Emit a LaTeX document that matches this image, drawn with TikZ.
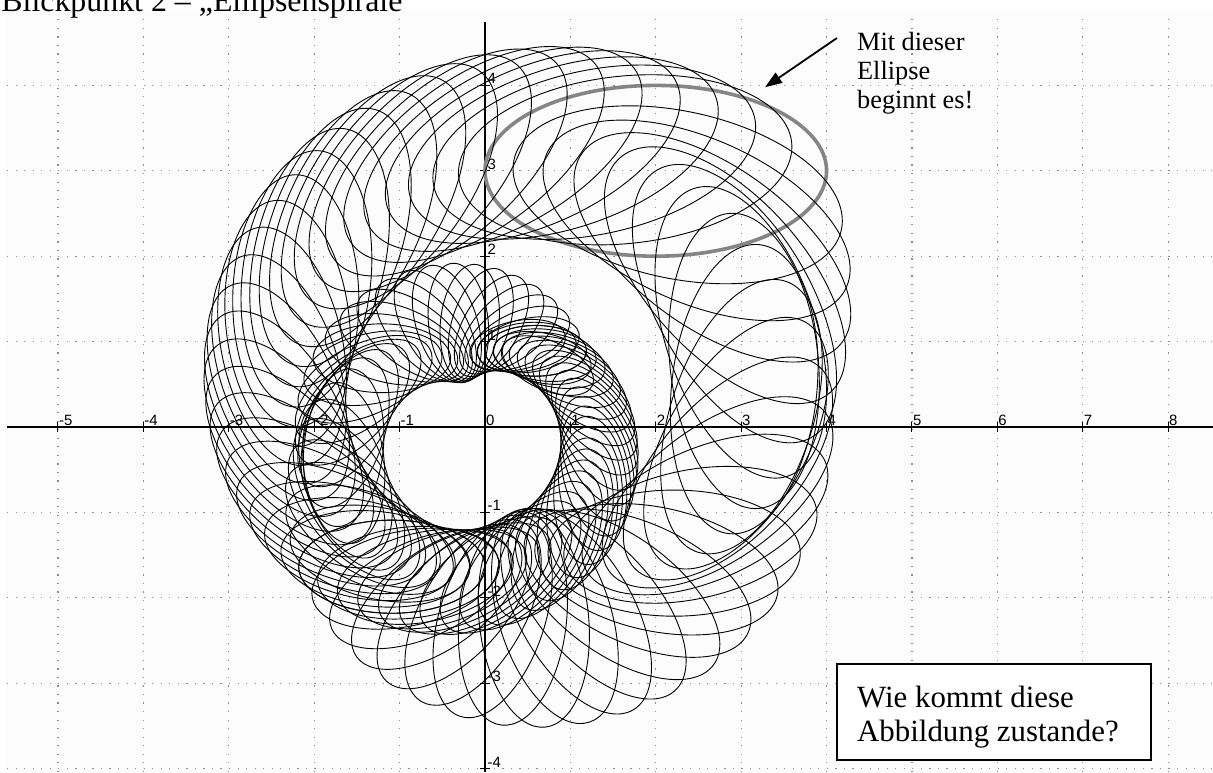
\documentclass[tikz,border=0pt]{standalone}
\usepackage{fontspec}
\setmainfont{Liberation Serif}
\newfontfamily\axisfont{Liberation Sans}
\usetikzlibrary{arrows.meta}
\begin{document}
\begin{tikzpicture}[x=85.4bp,y=85.4bp,
  griddot/.style={draw=black!45,line width=1.2bp,dash pattern=on 1.2bp off 7.34bp},
  axisline/.style={draw=black,line width=1.3bp},
  tickmark/.style={draw=black,line width=1bp},
  axislabel/.style={font=\axisfont\fontsize{15}{15}\selectfont,inner sep=0pt,anchor=south west},
  spiralell/.style={draw=black,line width=0.9bp},
  startell/.style={draw=black!48,line width=3.6bp},
  notetext/.style={font=\fontsize{26.4}{29}\selectfont,align=left,inner sep=0pt,anchor=north west},
  boxtext/.style={font=\fontsize{31}{35}\selectfont,align=left,inner sep=0pt,anchor=north west},
  pointer/.style={draw=black,line width=1.8bp,-{Triangle[length=17bp,width=12bp]}}
]
\useasboundingbox (-5.679,-4.040) rectangle (8.525,5.0);
\clip (-5.679,-4.040) rectangle (8.525,5.0);
% plot area
\fill[black!1] (-5.597,-4.040) rectangle (8.525,4.871);
% grid
\foreach \gx in {-5,-4,-3,-2,-1,1,2,3,4,5,6,7,8}
  \draw[griddot] (\gx,-4.040) -- (\gx,4.84);
\foreach \gy in {-4,-3,-2,-1,1,2,3,4}
  \draw[griddot] (-5.597,\gy) -- (8.525,\gy);
% axes
\draw[axisline] (-5.597,0) -- (8.525,0);
\draw[axisline] (0,4.742) -- (0,-4.040);
\foreach \gx in {-5,-4,-3,-2,-1,1,2,3,4,5,6,7,8}
  \draw[tickmark] (\gx,-0.055) -- (\gx,0.055);
\foreach \gy in {-4,-3,-2,-1,1,2,3,4}
  \draw[tickmark] (-0.055,\gy) -- (0.055,\gy);
\foreach \gx in {-5,-4,-3,-2,-1,0,1,2,3,4,5,6,7,8}
  \node[axislabel] (xl\gx) at (\gx+0.01,0.015) {\gx};
\foreach \gy in {-4,-3,-2,-1,1,2,3,4}
  \node[axislabel] (yl\gy) at (0.03,\gy+0.015) {\gy};
% start ellipse
\draw[startell] (2,3) ellipse (2 and 1);
% two spirals of ellipses starting from the grey one
\foreach \n in {1,...,62}{
  \pgfmathsetmacro{\sc}{0.98^\n}
  \pgfmathsetmacro{\th}{6*\n}
  % counter-clockwise branch: turned and shrunk about the origin
  \draw[spiralell,rotate=\th,scale=\sc] (2,3) ellipse (2 and 1);
  % clockwise branch: centre turned back, ellipse spinning twice as fast
  \pgfmathsetmacro{\bx}{\sc*(2*cos(\th)+3*sin(\th))}
  \pgfmathsetmacro{\by}{\sc*(3*cos(\th)-2*sin(\th))}
  \pgfmathsetmacro{\bs}{-2*\th}
  \draw[spiralell,shift={(\bx,\by)},rotate=\bs] (0,0) ellipse ({2*\sc} and {\sc});
}
% title (cut off at the top)
\node[font=\fontsize{32}{32}\selectfont,inner sep=0pt,anchor=base west] (title) at (-5.665,4.86) {Blickpunkt 2 – „Ellipsenspirale“};
% note and arrow
\node[notetext] (note) at (4.356,4.625) {Mit dieser\\Ellipse\\beginnt es!};
\coordinate (tip) at (3.279,3.978);
\coordinate (tail) at (4.122,4.555);
\draw[pointer] (tail) -- (tip);
% question box
\node[draw=black,line width=2bp,fill=white,minimum width=314bp,minimum height=96bp,inner sep=0pt,anchor=north west] (box) at (4.110,-2.763) {};
\node[boxtext] (question) at (4.356,-3.027) {Wie kommt diese\\Abbildung zustande?};
\end{tikzpicture}
\end{document}
